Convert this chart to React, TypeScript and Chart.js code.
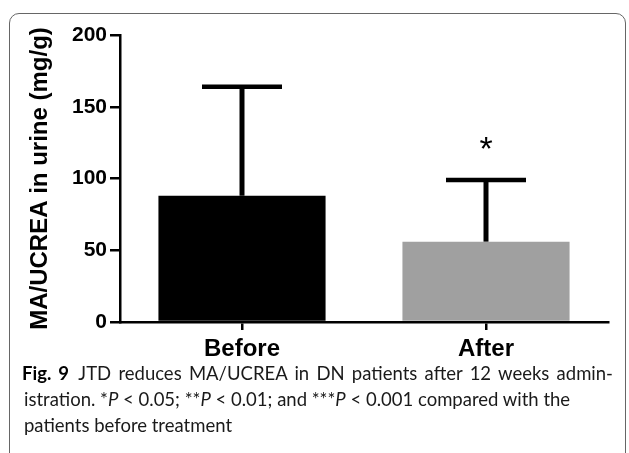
import React, { useEffect, useRef } from "react";
import { Chart, registerables } from "chart.js";

Chart.register(...registerables);

const categories = ["Before", "After"];
const meanValues = [88, 56];
const upperErrorValues = [164, 99];
const significanceMarks = ["", "*"];
const barColors = ["#000000", "#a0a0a0"];
const yTicks = [0, 50, 100, 150, 200];
const yTitle = "MA/UCREA in urine (mg/g)";

const CANVAS_W = 629;
const CANVAS_H = 365;

const errorBarPlugin = {
  id: "errorBars",
  afterDatasetsDraw(chart: any) {
    const meta = chart.getDatasetMeta(0);
    const yScale = chart.scales.y;
    const ctx = chart.ctx;
    ctx.save();
    ctx.strokeStyle = "#000";
    meta.data.forEach((bar: any, i: number) => {
      const x = bar.x;
      const top = yScale.getPixelForValue(upperErrorValues[i]);
      ctx.lineWidth = 5;
      ctx.beginPath();
      ctx.moveTo(x, bar.y);
      ctx.lineTo(x, top);
      ctx.stroke();
      ctx.lineWidth = 4.5;
      ctx.beginPath();
      ctx.moveTo(x - 40, top);
      ctx.lineTo(x + 40, top);
      ctx.stroke();
      const mark = significanceMarks[i];
      if (mark) {
        ctx.fillStyle = "#000";
        ctx.font = "34px 'Liberation Sans', Arial, sans-serif";
        ctx.textAlign = "center";
        ctx.textBaseline = "alphabetic";
        ctx.fillText(mark, x, top - 20);
      }
    });
    ctx.restore();
  },
};

export default function App() {
  const canvasRef = useRef<HTMLCanvasElement | null>(null);

  useEffect(() => {
    const canvas = canvasRef.current;
    if (!canvas) return;
    const chart = new Chart(canvas, {
      type: "bar",
      data: {
        labels: categories,
        datasets: [
          {
            data: meanValues,
            backgroundColor: barColors,
            borderWidth: 0,
            barPercentage: 0.685,
            categoryPercentage: 1,
          },
        ],
      },
      options: {
        responsive: false,
        animation: false,
        devicePixelRatio: 1,
        layout: { padding: { left: 0, right: 21, top: 35, bottom: 0 } },
        plugins: {
          legend: { display: false },
          tooltip: { enabled: false },
        },
        scales: {
          x: {
            type: "category",
            offset: true,
            grid: {
              offset: false,
              drawOnChartArea: false,
              drawTicks: true,
              tickLength: 8,
              color: "#000",
              lineWidth: 2.5,
            },
            border: { display: true, color: "#000", width: 2.5 },
            ticks: {
              color: "#000",
              padding: 5,
              font: { family: "'Liberation Sans', Arial, sans-serif", weight: "bold", size: 24 },
            },
            afterFit: (s: any) => {
              s.height = CANVAS_H - 322;
            },
          },
          y: {
            min: 0,
            max: 200,
            afterBuildTicks: (s: any) => {
              s.ticks = yTicks.map((v) => ({ value: v }));
            },
            grid: {
              drawOnChartArea: false,
              drawTicks: true,
              tickLength: 10,
              color: "#000",
              lineWidth: 2.5,
            },
            border: { display: true, color: "#000", width: 2.5 },
            ticks: {
              color: "#000",
              padding: 3,
              font: { family: "'Liberation Sans', Arial, sans-serif", weight: "bold", size: 21 },
            },
            title: {
              display: true,
              text: yTitle,
              color: "#000",
              padding: { top: 26, bottom: 0 },
              font: { family: "'Liberation Sans', Arial, sans-serif", weight: "bold", size: 24 },
            },
            afterFit: (s: any) => {
              s.width = 120;
            },
          },
        },
      },
      plugins: [errorBarPlugin],
    } as any);
    return () => chart.destroy();
  }, []);

  const capFont = "Lato, 'Open Sans', sans-serif";

  return (
    <div
      style={{
        position: "absolute",
        left: 0,
        top: 0,
        width: 629,
        height: 453,
        overflow: "hidden",
        background: "#fff",
      }}
    >
      <div
        style={{
          position: "absolute",
          left: 9,
          top: 13,
          width: 617,
          height: 460,
          border: "1.5px solid #666",
          borderRadius: 10,
          boxSizing: "border-box",
        }}
      />
      <canvas
        ref={canvasRef}
        width={CANVAS_W}
        height={CANVAS_H}
        style={{ position: "absolute", left: 0, top: 0, width: CANVAS_W, height: CANVAS_H }}
      />
      <div
        style={{
          position: "absolute",
          left: 22,
          top: 360,
          width: 591,
          fontFamily: capFont,
          fontSize: 18.5,
          lineHeight: "26px",
          color: "#1a1a1a",
          whiteSpace: "nowrap",
        }}
      >
        <div style={{ textAlign: "justify", textAlignLast: "justify", whiteSpace: "normal" } as any}>
          <b style={{ color: "#000" }}>Fig. 9</b>
          {"\u2002JTD reduces MA/UCREA in DN patients after 12 weeks admin-"}
        </div>
        <div style={{ paddingLeft: 2 }}>
          {"istration. *"}
          <i>P</i>
          {" < 0.05; **"}
          <i>P</i>
          {" < 0.01; and ***"}
          <i>P</i>
          {" < 0.001 compared with the"}
        </div>
        <div style={{ paddingLeft: 2 }}>patients before treatment</div>
      </div>
    </div>
  );
}
